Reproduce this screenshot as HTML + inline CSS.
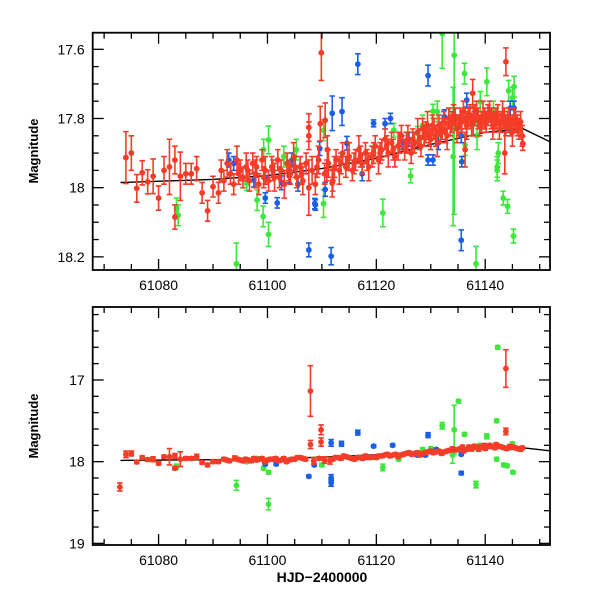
<!DOCTYPE html>
<html><head><meta charset="utf-8">
<style>
html,body{margin:0;padding:0;background:#fff;}
svg{display:block;font-family:"Liberation Sans",sans-serif;}
.tl{font-size:14px;fill:#000;}
.al{font-size:13px;font-weight:bold;fill:#000;}
</style></head>
<body>
<svg id="chart" width="600" height="600" viewBox="0 0 600 600">
  <rect x="0" y="0" width="600" height="600" fill="#fff"/>
  <g id="top"></g>
  <g id="bot"></g>
  <text class="al" x="0" y="0" transform="translate(38,151) rotate(-90)" text-anchor="middle">Magnitude</text>
  <text class="al" x="0" y="0" transform="translate(38,426) rotate(-90)" text-anchor="middle">Magnitude</text>
  <text class="al" x="322" y="582" text-anchor="middle" style="font-size:14px">HJD−2400000</text>
</svg>
<script>
// ---- data: [day, magnitude, error] ----
const lineDays = [61073, 61090, 61100, 61110, 61120, 61130, 61140, 61147, 61152];
const lineMags = [17.985, 17.976, 17.965, 17.945, 17.915, 17.875, 17.84, 17.83, 17.868];
const xTicks = [61080, 61100, 61120, 61140];
const topYTicks = [17.6, 17.8, 18, 18.2];
const topYLabels = ["17.6", "17.8", "18", "18.2"];
const botYTicks = [17, 18, 19];
const botYLabels = ["17", "18", "19"];

const topGreen = [[61100.2,17.862,.04],[61099.3,17.89,.03],[61098.1,18.036,.03],[61099.2,18.083,.03],[61100.2,18.135,.035],[61096.2,17.988,.02],[61094.3,18.22,.06],[61110.3,18.046,.04],[61110.3,17.834,.03],[61105.3,17.89,.03],[61103,17.91,.03],[61083.3,18.06,.03],[61083.6,18.08,.03],[61132.1,17.555,.1],[61134.3,17.617,.46],[61136.2,17.67,.03],[61140.3,17.694,.04],[61145.3,17.708,.03],[61144.3,17.72,.03],[61145,17.74,.03],[61121.2,18.073,.04],[61134.1,17.91,.2],[61143.3,18.03,.02],[61144.1,18.054,.02],[61145.2,18.14,.02],[61138.3,18.22,.05],[61142.2,17.95,.03],[61142.2,17.94,.03],[61142.4,17.9,.03],[61126.3,17.966,.02],[61130.4,17.779,.02],[61131.2,17.78,.03],[61136.3,17.877,.03],[61138.5,17.85,.04],[61139.1,17.752,.03],[61127.6,17.843,.02],[61123.2,17.834,.02],[61141.5,17.78,.03],[61128.5,17.82,.03],[61133.5,17.8,.03]];
const topBlue = [[61111.9,17.785,.05],[61113.7,17.78,.04],[61116.6,17.643,.03],[61119.5,17.814,.01],[61107.6,18.18,.02],[61111.7,18.198,.025],[61108.7,18.046,.015],[61108.8,18.05,.015],[61110.6,18.005,.02],[61109.6,17.887,.02],[61101.8,18.044,.015],[61099.6,18.03,.015],[61099.6,17.97,.02],[61097.5,17.978,.02],[61102.6,17.986,.02],[61104.5,17.92,.02],[61105.6,17.99,.02],[61104,17.966,.02],[61092.9,17.92,.02],[61093.8,17.93,.02],[61117.4,17.96,.02],[61114.6,17.872,.02],[61129.5,17.676,.03],[61121.6,17.815,.015],[61122.6,17.8,.015],[61135.6,18.152,.03],[61129.5,17.92,.015],[61130.4,17.92,.015],[61135.7,17.925,.015],[61135.6,17.85,.02],[61132.5,17.795,.02],[61136.6,17.747,.02],[61144.6,17.77,.02],[61145.3,17.77,.02],[61144.6,17.83,.02],[61124.7,17.87,.02],[61131.4,17.87,.02],[61126,17.86,.02],[61138,17.8,.02],[61141,17.79,.02]];
const topRed = [[61074,17.913,.075],[61075,17.9,.05],[61076,18.002,.04],[61077,17.957,.035],[61078,17.983,.035],[61079,17.967,.05],[61080,18.03,.035],[61081,17.95,.04],[61082,17.94,.08],[61083,18.085,.035],[61083,17.92,.04],[61084,17.967,.07],[61085,17.96,.03],[61086,17.96,.03],[61087,17.945,.035],[61088,18.015,.03],[61089,18.067,.03],[61090,17.997,.03],[61091,18.015,.03],
[61107.6,17.826,.04],[61107.6,17.85,.04],[61107.6,18.0,.08],[61109.9,17.61,.08],[61109.7,17.815,.05],[61110.6,17.805,.05],[61111,17.89,.04],[61111.9,17.987,.04],[61143.8,17.636,.04],[61137.7,17.727,.04],[61143.6,17.9,.06],[61136.3,17.89,.05],[61146.9,17.872,.02],
[61091.5,17.95,.03],[61092,17.98,.03],[61092.6,17.93,.04],[61093.2,17.96,.03],[61093.8,17.99,.03],[61094.4,17.92,.04],[61095,17.95,.03],[61095.5,17.97,.03],[61096.1,17.94,.04],[61096.7,17.98,.03],[61097.3,17.93,.03],[61097.8,17.96,.04],[61098.4,17.99,.03],[61099,17.92,.03],[61099.6,17.95,.04],[61100.2,17.98,.03],[61100.8,17.94,.03],[61101.3,17.97,.04],[61101.9,17.92,.03],[61102.5,17.95,.03],[61103.1,17.99,.04],[61103.6,17.93,.03],[61104.2,17.96,.03],[61104.8,17.91,.04],[61105.4,17.97,.03],[61106,17.94,.03],[61106.5,17.98,.04],[61107.1,17.93,.03],[61108.2,17.95,.04],[61108.8,17.99,.03],[61109.4,17.92,.04],[61110.5,17.96,.03],[61111.2,17.93,.04],[61112,17.98,.03],[61112.6,17.92,.03],[61113.2,17.95,.04],[61113.8,17.9,.03],[61114.4,17.94,.03],[61115,17.91,.04],[61115.6,17.95,.03],[61116.2,17.92,.03],[61116.8,17.89,.04],[61117.4,17.93,.03],[61118,17.9,.03],[61118.6,17.94,.04],[61119.2,17.91,.03],[61119.8,17.88,.03],[61120.4,17.92,.04],[61121,17.89,.03],[61121.6,17.86,.03],[61122.2,17.9,.04],[61122.8,17.87,.03],[61123.4,17.91,.03],[61124,17.88,.04],[61124.6,17.85,.03],[61125.2,17.89,.03],[61125.8,17.86,.04],[61126.4,17.9,.03],[61127,17.87,.03],[61127.6,17.84,.04],[61128.2,17.88,.03],[61128.8,17.85,.03],[61129.4,17.82,.04],[61130,17.86,.03],[61130.6,17.83,.03],[61131.2,17.87,.04],[61131.8,17.84,.03],[61132.4,17.81,.03],[61133,17.85,.04],[61133.6,17.82,.03],[61134.2,17.79,.03],[61134.8,17.83,.04],[61135.4,17.8,.03],[61136,17.78,.03],[61136.6,17.82,.04],[61137.2,17.79,.03],[61137.8,17.81,.04],[61138.4,17.78,.03],[61139,17.82,.03],[61139.6,17.79,.04],[61140.2,17.81,.03],[61140.8,17.78,.03],[61141.4,17.82,.04],[61142,17.8,.03],[61142.6,17.83,.03],[61143.2,17.79,.04],[61143.8,17.82,.03],[61144.4,17.8,.03],[61145,17.84,.04],[61145.6,17.81,.03],[61146.2,17.83,.03],[61146.8,17.85,.03]];
const topRedExtra = [[61094.7,17.96,.03],[61096.4,17.95,.03],[61098,17.94,.03],[61099.3,17.97,.03],[61101,17.95,.03],[61102.2,17.97,.03],[61103.9,17.95,.03],[61105.1,17.94,.03],[61106.3,17.96,.03],[61109.1,17.94,.03],[61110.9,17.95,.03],[61112.3,17.94,.03],[61113.5,17.93,.03],[61114.7,17.92,.03],[61115.9,17.93,.03],[61117.1,17.91,.03],[61118.3,17.92,.03],[61119.5,17.9,.03],[61120.7,17.9,.03],[61121.9,17.88,.03],[61123.1,17.89,.03],[61124.3,17.87,.03],[61125.5,17.87,.03],[61126.7,17.86,.03],[61127.9,17.86,.03],[61128.5,17.83,.03],[61129.1,17.84,.03],[61129.7,17.85,.03],[61130.3,17.82,.03],[61130.9,17.85,.03],[61131.5,17.82,.03],[61132.1,17.83,.03],[61132.7,17.84,.03],[61133.3,17.8,.03],[61133.9,17.81,.03],[61134.5,17.8,.03],[61135.1,17.82,.03],[61135.7,17.81,.03],[61136.3,17.8,.03],[61136.9,17.8,.03],[61137.5,17.82,.03],[61138.1,17.79,.03],[61138.7,17.8,.03],[61139.3,17.81,.03],[61139.9,17.8,.03],[61140.5,17.79,.03],[61141.1,17.8,.03],[61141.7,17.81,.03],[61142.3,17.79,.03],[61142.9,17.81,.03],[61143.5,17.8,.03],[61144.1,17.81,.03],[61144.7,17.82,.03],[61145.3,17.8,.03],[61145.9,17.82,.03],[61146.5,17.81,.03]];

const botGreen = [[61142.3,16.6,.02],[61135.1,17.26,.02],[61142.1,17.5,.02],[61132.1,17.56,.04],[61134.3,17.61,.3],[61136.2,17.665,.02],[61140.3,17.69,.03],[61138.3,18.28,.04],[61121.2,18.07,.04],[61094.3,18.29,.06],[61100.2,18.52,.07],[61100.2,18.13,.02],[61099.3,18.08,.02],[61143.4,18.04,.02],[61144,18.05,.02],[61145.1,18.13,.02],[61142.1,17.97,.02],[61134,17.92,.1],[61124.1,17.97,.02],[61110,18.04,.02],[61096.2,18.0,.02],[61083.3,18.06,.03],[61098,17.96,.02],[61128.5,17.85,.02],[61130,17.84,.02],[61137,17.83,.02],[61139,17.8,.02],[61145,17.78,.02]];
const botBlue = [[61107.6,18.18,.015],[61111.7,18.2,.04],[61111.7,18.26,.04],[61111.7,17.77,.04],[61113.6,17.78,.03],[61116.6,17.645,.03],[61119.5,17.81,.015],[61129.5,17.675,.03],[61135.6,18.14,.02],[61135.6,17.91,.015],[61123,17.8,.015],[61099.6,18.03,.015],[61101.6,18.03,.015],[61108.6,18.04,.015],[61127.5,17.92,.015],[61129,17.92,.015],[61131,17.85,.015],[61144.6,17.82,.015],[61103,17.97,.015]];
const botRed = [[61072.9,18.31,.05],[61074,17.91,.04],[61075,17.9,.03],[61076,18.004,.02],[61077,17.95,.02],[61078,17.975,.02],[61079,17.97,.03],[61080,18.02,.02],[61081,17.94,.02],[61082,17.94,.1],[61083,18.08,.02],[61083,17.93,.03],[61084,17.97,.09],[61085,17.96,.02],[61086,17.96,.02],[61087,17.94,.03],[61088,18.01,.02],[61089,18.04,.02],[61090,18.0,.02],[61091,18.0,.02],
[61107.9,17.135,.31],[61109.85,17.61,.06],[61109.85,17.76,.05],[61107.9,17.79,.05],[61143.8,16.86,.23],[61143.8,17.63,.04],
[61092,17.97,.02],[61093,17.99,.02],[61094,17.96,.03],[61095,17.98,.02],[61096,17.97,.02],[61097,17.99,.02],[61098,17.98,.02],[61099,17.96,.02],[61100,17.98,.02],[61101,17.97,.02],[61102,17.99,.02],[61103,17.96,.02],[61104,17.98,.02],[61105,17.97,.02],[61106,17.95,.02],[61107,17.97,.02],[61108.5,17.99,.04],[61109.5,17.96,.02],[61110.5,17.98,.04],[61111.5,17.99,.04],[61112.5,17.95,.02],[61113.5,17.96,.02],[61114.5,17.94,.02],[61115.5,17.96,.02],[61116.5,17.95,.02],[61117.5,17.96,.02],[61118.5,17.95,.02],[61119.5,17.94,.02],[61120.5,17.93,.02],[61121.5,17.92,.02],[61122.5,17.93,.02],[61123.5,17.91,.02],[61124.5,17.92,.02],[61125.5,17.9,.02],[61126.5,17.91,.02],[61127.5,17.89,.02],[61128.5,17.9,.02],[61129.5,17.88,.02],[61130.5,17.89,.02],[61131.5,17.87,.02],[61132.5,17.88,.02],[61133.5,17.86,.02],[61134.5,17.86,.02],[61135.5,17.84,.02],[61136.5,17.85,.02],[61137.5,17.84,.03],[61138.5,17.83,.02],[61139.5,17.82,.02],[61140.5,17.81,.02],[61141.5,17.82,.02],[61142.5,17.81,.02],[61143.5,17.83,.02],[61144.5,17.82,.03],[61145.5,17.83,.02],[61146.5,17.85,.02],
[61092.5,17.98,.02],[61094.5,17.97,.02],[61096.5,17.98,.02],[61098.5,17.97,.02],[61100.5,17.97,.02],[61102.5,17.98,.02],[61104.5,17.97,.02],[61106.5,17.96,.02],[61113,17.95,.02],[61115,17.95,.02],[61117,17.95,.02],[61119,17.95,.02],[61121,17.93,.02],[61123,17.92,.02],[61125,17.91,.02],[61127,17.9,.02],[61129,17.89,.02],[61131,17.88,.02],[61133,17.87,.02],[61135,17.85,.02],[61137,17.84,.02],[61139,17.82,.02],[61141,17.81,.02],[61143,17.82,.02],[61145,17.82,.02],[61146,17.84,.02]];
const botRedExtra = [[61095.5,17.99,.02],[61097.5,17.96,.02],[61099.5,18.0,.02],[61101.5,17.96,.02],[61103.5,18.0,.02],[61105.5,17.95,.02],[61112,17.97,.02],[61114,17.93,.02],[61116,17.97,.02],[61118,17.93,.02],[61120,17.95,.02],[61122,17.91,.02],[61124,17.94,.02],[61126,17.89,.02],[61128,17.92,.02],[61130,17.87,.02],[61132,17.9,.02],[61134,17.84,.02],[61136,17.87,.02],[61138,17.81,.02],[61140,17.84,.02],[61142,17.79,.02],[61144,17.84,.02],[61146.8,17.83,.02],[61140.8,17.8,.02],[61141.8,17.83,.02],[61139.8,17.8,.02],[61138.8,17.85,.02],[61137,17.82,.02],[61135.8,17.82,.02]];

const NS = "http://www.w3.org/2000/svg";
const X0 = 92.7, X1 = 550, D0 = 61067.9, D1 = 61151.9;
function xs(d){ return X0 + (d - D0) / (D1 - D0) * (X1 - X0); }

function mk(tag, attrs, parent){
  const e = document.createElementNS(NS, tag);
  for (const k in attrs) e.setAttribute(k, attrs[k]);
  parent.appendChild(e);
  return e;
}

function panel(g, prefix, Y0, Y1, M0, M1, yTicks, yLabels, minorStep, series){
  const ys = m => Y0 + (m - M0) / (M1 - M0) * (Y1 - Y0);
  const cid = prefix + "-clip";
  const defs = mk("defs", {}, g);
  const cp = mk("clipPath", {id: cid}, defs);
  mk("rect", {x: X0, y: Y0, width: X1 - X0, height: Y1 - Y0}, cp);
  const plot = mk("g", {"clip-path": "url(#" + cid + ")"}, g);
  
  
  let dstr = "";
  lineDays.forEach((d, i) => { dstr += (i ? "L" : "M") + xs(d).toFixed(1) + "," + ys(lineMags[i]).toFixed(1); });
  const ln = mk("path", {d: dstr, fill: "none", stroke: "#000", "stroke-width": 1.4}, plot);
  
  
  series.forEach(s => {
    const sg = mk("g", {}, plot);
    
    
    s.data.forEach(p => {
      const x = xs(p[0]), y = ys(p[1]);
      const ya = ys(p[1] - p[2]), yb = ys(p[1] + p[2]);
      const pg = mk("g", {}, sg);
      
      
      mk("path", {d: "M" + x + "," + ya + "L" + x + "," + yb + "M" + (x - 2.8) + "," + ya + "L" + (x + 2.8) + "," + ya + "M" + (x - 2.8) + "," + yb + "L" + (x + 2.8) + "," + yb, stroke: s.color, "stroke-width": 1.6, fill: "none"}, pg);
      mk("circle", {cx: x, cy: y, r: 2.9, fill: s.color}, pg);
    });
  });
  const fr = mk("rect", {x: X0, y: Y0, width: X1 - X0, height: Y1 - Y0, fill: "none", stroke: "#000", "stroke-width": 1.8}, g);
  
  
  const tg = mk("g", {stroke: "#000", "stroke-width": 1.3}, g);
  
  
  for (let d = 61070; d <= 61150; d += 5) {
    const x = xs(d), L = (d % 20 === 0) ? 11 : 6;
    mk("line", {x1: x, y1: Y1, x2: x, y2: Y1 - L}, tg);
    mk("line", {x1: x, y1: Y0, x2: x, y2: Y0 + L}, tg);
  }
  const n0 = Math.ceil(Math.min(M0, M1) / minorStep - 1e-6), n1 = Math.floor(Math.max(M0, M1) / minorStep + 1e-6);
  for (let n = n0; n <= n1; n++) {
    const m = n * minorStep, y = ys(m);
    const major = yTicks.some(t => Math.abs(t - m) < 1e-6);
    const L = major ? 11 : 6;
    mk("line", {x1: X0, y1: y, x2: X0 + L, y2: y}, tg);
    mk("line", {x1: X1, y1: y, x2: X1 - L, y2: y}, tg);
  }
  yTicks.forEach((t, i) => {
    const tx = mk("text", {x: X0 - 8, y: ys(t) + 5, "text-anchor": "end", class: "tl"}, g);
    tx.textContent = yLabels[i];
    
    
  });
  xTicks.forEach(t => {
    const tx = mk("text", {x: xs(t), y: Y1 + 20, "text-anchor": "middle", class: "tl"}, g);
    tx.textContent = String(t);
    
    
  });
}

panel(document.getElementById("top"), "top", 32.7, 270, 17.552, 18.238, topYTicks, topYLabels, 0.05,
  [{name: "green", color: "#3be83b", data: topGreen}, {name: "blue", color: "#1a5fe6", data: topBlue}, {name: "red", color: "#f53c28", data: topRed}, {name: "red-dense", color: "#f53c28", data: topRedExtra}]);
panel(document.getElementById("bot"), "bottom", 307, 545, 16.107, 19.02, botYTicks, botYLabels, 0.2,
  [{name: "green", color: "#3be83b", data: botGreen}, {name: "blue", color: "#1a5fe6", data: botBlue}, {name: "red", color: "#f53c28", data: botRed}, {name: "red-dense", color: "#f53c28", data: botRedExtra}]);
</script>
</body></html>
